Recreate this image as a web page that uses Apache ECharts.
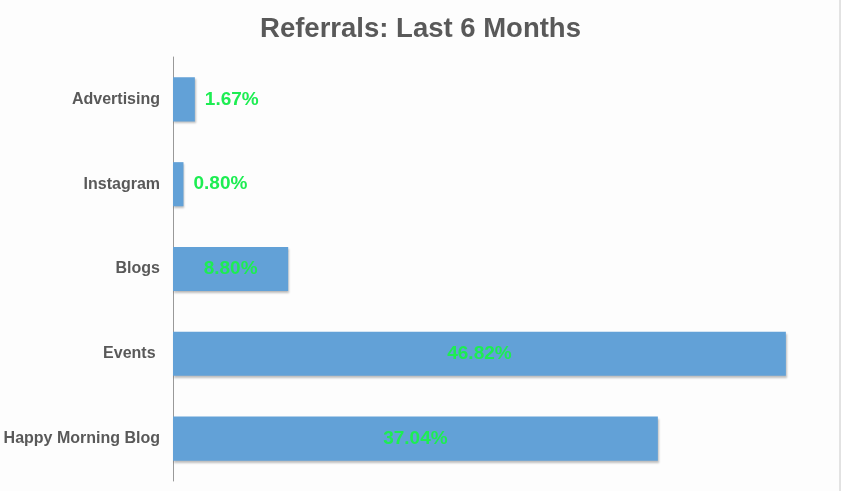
<!DOCTYPE html>
<html>
<head>
<meta charset="utf-8">
<script src="https://cdn.jsdelivr.net/npm/echarts@6/dist/echarts.min.js"></script>
<style>
html,body{margin:0;padding:0;background:#fdfdfd;}
#main{width:841px;height:491px;}
</style>
</head>
<body>
<div id="main"></div>
<script>
var categories = ['Advertising', 'Instagram', 'Blogs', 'Events ', 'Happy Morning Blog'];
var percents = [1.67, 0.80, 8.80, 46.82, 37.04];

function toBarData(vals){
	var d = [];
	for (var i = 0; i < vals.length; i++) {
		// short bars get their label outside
		d.push({
			value: vals[i],
			label: {position: vals[i] < 5 ? 'right' : 'inside', distance: 10}
		});
	}
	return d;
}

var chart = echarts.init(document.getElementById('main'));
var option = {
	backgroundColor: '#fdfdfd',
	animation: false,
	title: {
		text: 'Referrals: Last 6 Months',
		left: 'center',
		top: 10,
		textStyle: {
			fontFamily: 'Liberation Sans, Arial, sans-serif',
			fontSize: 27.5,
			fontWeight: 'bold',
			color: '#595959'
		}
	},
	grid: {
		left: 173,
		right: 13.5,
		top: 57,
		bottom: 10
	},
	xAxis: {
		type: 'value',
		min: 0,
		max: 50,
		show: false
	},
	yAxis: {
		type: 'category',
		inverse: true,
		data: categories,
		axisTick: {show: false},
		axisLine: {lineStyle: {color: '#999', width: 1}},
		axisLabel: {
			margin: 13,
			padding: [4, 0, 0, 0],
			fontFamily: 'Liberation Sans, Arial, sans-serif',
			fontSize: 16,
			fontWeight: 'bold',
			color: '#595959'
		}
	},
	graphic: [{
		type: 'line',
		shape: {x1: 840, y1: 0, x2: 840, y2: 491},
		style: {stroke: '#c8c8c8', lineWidth: 1}
	}],
	series: [{
		type: 'bar',
		barWidth: '52%',
		data: toBarData(percents),
		itemStyle: {
			color: '#62a1d7',
			shadowColor: 'rgba(0,0,0,0.25)',
			shadowBlur: 2,
			shadowOffsetX: 1,
			shadowOffsetY: 2
		},
		label: {
			show: true,
			padding: [4, 0, 0, 0],
			formatter: function(p){ return p.value.toFixed(2) + '%'; },
			fontFamily: 'Liberation Sans, Arial, sans-serif',
			fontSize: 19,
			fontWeight: 'bold',
			color: '#1ded52'
		}
	}]
};
chart.setOption(option);
</script>
</body>
</html>
